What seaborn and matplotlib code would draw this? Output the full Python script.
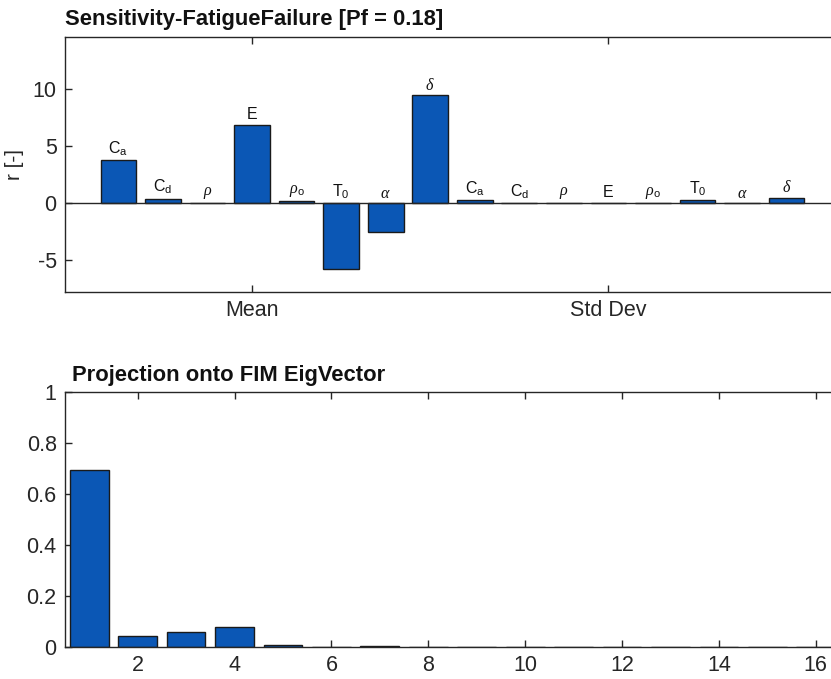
import numpy as np
import pandas as pd
import matplotlib
matplotlib.use("Agg")
import matplotlib.pyplot as plt
import seaborn as sns

# Sensitivity indices: 8 parameters (mean) followed by the same 8 (std dev)
param_labels = ["C$_\\mathrm{a}$", "C$_\\mathrm{d}$", "$\\rho$", "E",
                "$\\rho_\\mathrm{o}$", "T$_\\mathrm{0}$", "$\\alpha$", "$\\delta$"]
mean_r = [3.8, 0.4, 0.0, 6.9, 0.15, -5.8, -2.5, 9.5]
std_r = [0.3, 0.0, 0.0, 0.05, 0.0, 0.3, 0.0, 0.5]
group_ticks = ["Mean", "Std Dev"]

# Projection onto FIM eigenvectors
eig_index = list(range(1, 17))
projection = [0.695, 0.042, 0.059, 0.077, 0.008, 0.0, 0.003, 0.0,
              0.0, 0.0, 0.0, 0.0, 0.0, 0.0, 0.0, 0.0]

sns.set_theme(style="white")
plt.rcParams["font.family"] = ["Liberation Sans", "DejaVu Sans"]
plt.rcParams["mathtext.fontset"] = "custom"
plt.rcParams["mathtext.rm"] = "Liberation Sans"
plt.rcParams["mathtext.it"] = "Liberation Serif:italic"
plt.rcParams["mathtext.bf"] = "Liberation Sans:bold"
plt.rcParams["axes.unicode_minus"] = False

bar_color = "#0b57b5"
edge = "#1a1a1a"
axis_col = "#262626"

W, H = 831, 679
fig = plt.figure(figsize=(W / 100, H / 100), dpi=100)

def px_axes(x0, y0, x1, y1):
    return fig.add_axes([x0 / W, 1 - y1 / H, (x1 - x0) / W, (y1 - y0) / H])

ax1 = px_axes(65, 37, 840, 292)
ax2 = px_axes(65, 392, 840, 647)

# ---- top panel ----
r_values = mean_r + std_r
labels16 = param_labels + param_labels
df_top = pd.DataFrame({"idx": np.arange(1, 17), "r": r_values})
sns.barplot(data=df_top, x="idx", y="r", native_scale=True, width=0.8,
            color=bar_color, edgecolor=edge, linewidth=1.0, saturation=1,
            ax=ax1, errorbar=None)
ax1.axhline(0, color=axis_col, lw=1.0, zorder=3)
ax1.set_xlim(-0.2, 17.2)
ax1.set_ylim(-7.8, 14.6)
ax1.set_xticks([4, 12])
ax1.set_xticklabels(group_ticks)
ax1.set_yticks([-5, 0, 5, 10])
ax1.set_xlabel("")
ax1.set_ylabel("r [-]", fontsize=15, labelpad=6)
for i, (v, lab) in enumerate(zip(r_values, labels16)):
    ax1.text(i + 1, max(v, 0) + 0.2, lab, ha="center", va="bottom",
             fontsize=11.5, color="#111111")
fig.text(65 / W, 1 - 19 / H, "Sensitivity-FatigueFailure [Pf = 0.18]",
         fontsize=15.8, fontweight="bold", ha="left", va="center", color="#111111")

# ---- bottom panel ----
df_bot = pd.DataFrame({"k": eig_index, "p": projection})
sns.barplot(data=df_bot, x="k", y="p", native_scale=True, width=0.8,
            color=bar_color, edgecolor=edge, linewidth=1.0, saturation=1,
            ax=ax2, errorbar=None)
ax2.set_xlim(0.5, 16.5)
ax2.set_ylim(0, 1)
ax2.set_xticks(range(2, 17, 2))
ax2.set_yticks([0, 0.2, 0.4, 0.6, 0.8, 1])
ax2.set_yticklabels(["0", "0.2", "0.4", "0.6", "0.8", "1"])
ax2.set_xlabel("")
ax2.set_ylabel("")
fig.text(72 / W, 1 - 375 / H, "Projection onto FIM EigVector",
         fontsize=15.8, fontweight="bold", ha="left", va="center", color="#111111")

for ax in (ax1, ax2):
    for s in ax.spines.values():
        s.set_color(axis_col)
        s.set_linewidth(1.0)
        s.set_visible(True)
    ax.tick_params(direction="in", length=5, width=1.0, color=axis_col,
                   labelsize=15.5, labelcolor="#262626",
                   top=True, right=True, bottom=True, left=True, pad=6)
    ax.grid(False)

fig.savefig("out.png", dpi=100)
